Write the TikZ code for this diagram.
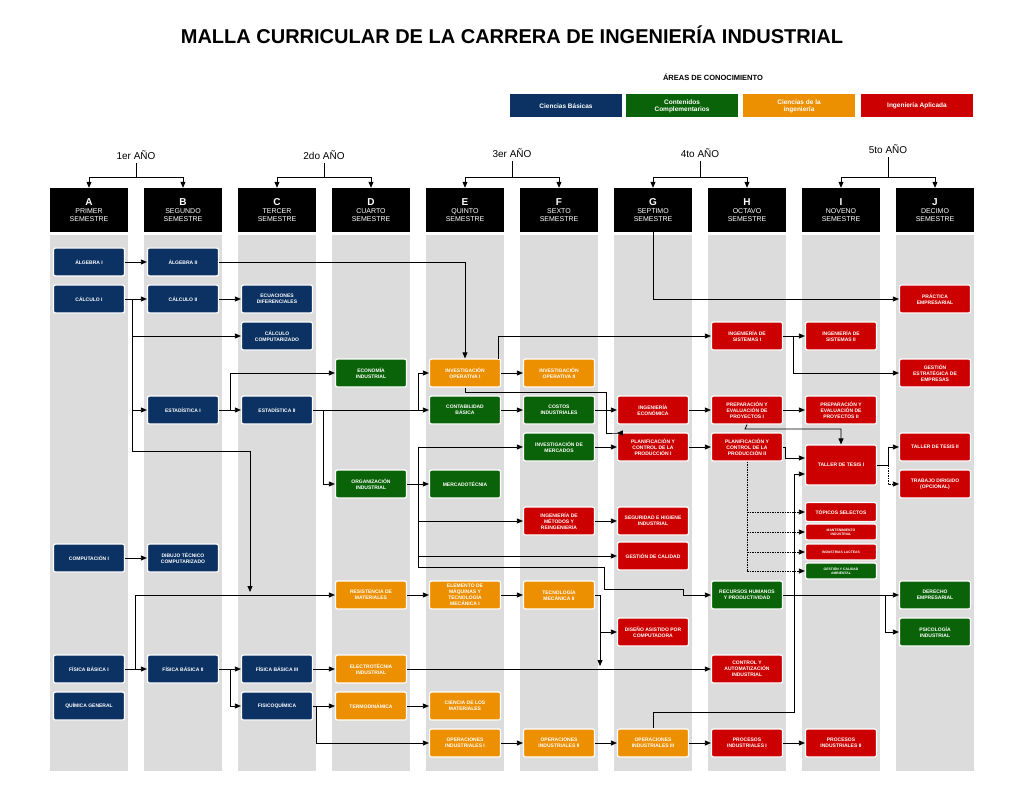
\documentclass[tikz,border=0pt]{standalone}
\usepackage{fontspec}
\setmainfont{Liberation Sans}
\usetikzlibrary{arrows.meta}
\definecolor{cb}{HTML}{0B3263}
\definecolor{cc}{HTML}{0A6308}
\definecolor{ci}{HTML}{EC8F00}
\definecolor{ca}{HTML}{CC0000}
\definecolor{strip}{HTML}{DCDCDC}
\tikzset{
 bx/.style={draw=white,line width=1.2pt,rounded corners=2pt,text=white,align=center,minimum width=71pt,minimum height=28pt,inner sep=1pt,font=\bfseries\fontsize{5}{6}\selectfont},
 B/.style={bx,fill=cb}, G/.style={bx,fill=cc}, O/.style={bx,fill=ci}, R/.style={bx,fill=ca},
 sm/.style={minimum height=16pt,font=\bfseries\fontsize{3.4}{4.2}\selectfont},
 hdr/.style={fill=black,text=white,align=center,minimum width=78pt,minimum height=44pt,inner sep=0pt,font=\fontsize{7}{8}\selectfont},
 ar/.style={line width=0.8pt,-{Triangle[length=6pt,width=5pt]}},
 ln/.style={line width=0.8pt},
 da/.style={ar,dashed,dash pattern=on 1.5pt off 1pt},
 lg/.style={text=white,align=center,minimum width=112pt,minimum height=23pt,inner sep=0pt,font=\bfseries\fontsize{6.5}{7}\selectfont},
 yr/.style={font=\fontsize{10}{12}\selectfont}
}
\begin{document}
\begin{tikzpicture}[x=1pt,y=-1pt]
\useasboundingbox (0,0) rectangle (1024,791);
\fill[white] (0,0) rectangle (1024,791);
\node[font=\bfseries\fontsize{20}{24}\selectfont] (title) at (512,35) {MALLA CURRICULAR DE LA CARRERA DE INGENIERÍA INDUSTRIAL};
\node[font=\bfseries\fontsize{7.5}{9}\selectfont] (areas) at (713,77) {ÁREAS DE CONOCIMIENTO};
\node[lg,fill=cb] (l1) at (566,106) {Ciencias Básicas};
\node[lg,fill=cc] (l2) at (682,106) {Contenidos\\Complementarios};
\node[lg,fill=ci] (l3) at (799,106) {Ciencias de la\\ingeniería};
\node[lg,fill=ca] (l4) at (917,106) {Ingeniería Aplicada};
% stripes and headers
\foreach \x/\L/\S in {89/A/PRIMER,183/B/SEGUNDO,277/C/TERCER,371/D/CUARTO,465/E/QUINTO,559/F/SEXTO,653/G/SEPTIMO,747/H/OCTAVO,841/I/NOVENO,935/J/DECIMO}{
 \fill[strip] (\x-39,235) rectangle (\x+39,771);
 \node[hdr] (h\L) at (\x,210) {{\bfseries\fontsize{10}{11}\selectfont \L}\\\S\\SEMESTRE};
}
\foreach \a/\b/\t/\y in {A/B/1er/155,C/D/2do/155,E/F/3er/153,G/H/4to/153,I/J/5to/149}{
 \path (h\a.north) -- (h\b.north) coordinate[pos=0.5] (m\a);
 \node[yr] (y\a) at (m\a |- 0,\y) {\t{} AÑO};
 \draw[ln] (y\a.south) -- (m\a |- 0,177);
 \draw[ar] (m\a |- 0,177) -| (h\a.north);
 \draw[ar] (m\a |- 0,177) -| (h\b.north);
}
% nodes
\node[B] (alg1) at (89,262) {ÁLGEBRA I};
\node[B] (alg2) at (183,262) {ÁLGEBRA II};
\node[B] (cal1) at (89,299) {CÁLCULO I};
\node[B] (cal2) at (183,299) {CÁLCULO II};
\node[B] (ecd) at (277,299) {ECUACIONES\\DIFERENCIALES};
\node[B] (calc) at (277,336) {CÁLCULO\\COMPUTARIZADO};
\node[G] (eco) at (371,373) {ECONOMÍA\\INDUSTRIAL};
\node[O] (io1) at (465,373) {INVESTIGACIÓN\\OPERATIVA I};
\node[O] (io2) at (559,373) {INVESTIGACIÓN\\OPERATIVA II};
\node[R] (is1) at (747,336) {INGENIERÍA DE\\SISTEMAS I};
\node[R] (is2) at (841,336) {INGENIERÍA DE\\SISTEMAS II};
\node[R] (pra) at (935,299) {PRÁCTICA\\EMPRESARIAL};
\node[R] (ges) at (935,373) {GESTIÓN\\ESTRATÉGICA DE\\EMPRESAS};
\node[B] (es1) at (183,410) {ESTADÍSTICA I};
\node[B] (es2) at (277,410) {ESTADÍSTICA II};
\node[G] (con) at (465,410) {CONTABILIDAD\\BÁSICA};
\node[G] (cos) at (559,410) {COSTOS\\INDUSTRIALES};
\node[R] (iec) at (653,410) {INGENIERÍA\\ECONÓMICA};
\node[R] (pe1) at (747,410) {PREPARACIÓN Y\\EVALUACIÓN DE\\PROYECTOS I};
\node[R] (pe2) at (841,410) {PREPARACIÓN Y\\EVALUACIÓN DE\\PROYECTOS II};
\node[G] (imk) at (559,447) {INVESTIGACIÓN DE\\MERCADOS};
\node[R] (pc1) at (653,447) {PLANIFICACIÓN Y\\CONTROL DE LA\\PRODUCCIÓN I};
\node[R] (pc2) at (747,447) {PLANIFICACIÓN Y\\CONTROL DE LA\\PRODUCCIÓN II};
\node[R,minimum height=40pt] (tt1) at (841,465) {TALLER DE TESIS I};
\node[R] (tt2) at (935,447) {TALLER DE TESIS II};
\node[R] (tdi) at (935,484) {TRABAJO DIRIGIDO\\(OPCIONAL)};
\node[G] (org) at (371,484) {ORGANIZACIÓN\\INDUSTRIAL};
\node[G] (mer) at (465,484) {MERCADOTÉCNIA};
\node[R] (met) at (559,521) {INGENIERÍA DE\\MÉTODOS Y\\REINGENIERÍA};
\node[R] (seg) at (653,521) {SEGURIDAD E HIGIENE\\INDUSTRIAL};
\node[R,minimum height=19pt] (top) at (841,512) {TÓPICOS SELECTOS};
\node[R,sm] (man) at (841,532) {MANTENIMIENTO\\INDUSTRIAL};
\node[R,sm] (lac) at (841,552) {INDUSTRIAS LACTEAS};
\node[G,sm] (gca) at (841,571) {GESTIÓN Y CALIDAD\\AMBIENTAL};
\node[R] (gcal) at (653,556) {GESTIÓN DE CALIDAD};
\node[B] (cmp) at (89,558) {COMPUTACIÓN I};
\node[B] (dib) at (183,558) {DIBUJO TÉCNICO\\COMPUTARIZADO};
\node[O] (res) at (371,595) {RESISTENCIA DE\\MATERIALES};
\node[O] (ele) at (465,595) {ELEMENTO DE\\MÁQUINAS Y\\TECNOLOGÍA\\MECÁNICA I};
\node[O] (tm2) at (559,595) {TECNOLOGÍA\\MECÁNICA II};
\node[G] (rrh) at (747,595) {RECURSOS HUMANOS\\Y PRODUCTIVIDAD};
\node[G] (der) at (935,595) {DERECHO\\EMPRESARIAL};
\node[R] (dac) at (653,632) {DISEÑO ASISTIDO POR\\COMPUTADORA};
\node[G] (psi) at (935,632) {PSICOLOGÍA\\INDUSTRIAL};
\node[B] (fi1) at (89,669) {FÍSICA BÁSICA I};
\node[B] (fi2) at (183,669) {FÍSICA BÁSICA II};
\node[B] (fi3) at (277,669) {FÍSICA BÁSICA III};
\node[O] (elt) at (371,669) {ELECTROTÉCNIA\\INDUSTRIAL};
\node[R] (cai) at (747,669) {CONTROL Y\\AUTOMATIZACIÓN\\INDUSTRIAL};
\node[B] (qui) at (89,706) {QUÍMICA GENERAL};
\node[B] (fqu) at (277,706) {FISICOQUÍMICA};
\node[O] (ter) at (371,706) {TERMODINÁMICA};
\node[O] (cim) at (465,706) {CIENCIA DE LOS\\MATERIALES};
\node[O] (op1) at (465,743) {OPERACIONES\\INDUSTRIALES I};
\node[O] (op2) at (559,743) {OPERACIONES\\INDUSTRIALES II};
\node[O] (op3) at (653,743) {OPERACIONES\\INDUSTRIALES III};
\node[R] (pr1) at (747,743) {PROCESOS\\INDUSTRIALES I};
\node[R] (pr2) at (841,743) {PROCESOS\\INDUSTRIALES II};
% connectors
\draw[ar] (alg1) -- (alg2);
\draw[ar] (alg2.east) -| (io1.north);
\draw[ar] (cal1) -- (cal2);
\draw[ar] (cal2) -- (ecd);
\draw[ar] (cal1.east) -| (132,336) -- (calc.west);
\draw[ar] (132,299) |- (es1.west);
\draw[ln] (132,410) |- (250,451);
\draw[ar] (250,451) -- (250,592);
\draw[ar] (es1) -- (es2);
\draw[ar] (230,410) |- (eco.west);
\draw[ln] (es2.east) -- (418,410);
\draw[ar] (418,410) |- (io1.west);
\draw[ar] (418,410) -- (con.west);
\draw[ar] (323,410) |- (org.west);
\draw[ar] (org) -- (mer);
\draw[ar] (418,484) |- (imk.west);
\draw[ar] (418,484) |- (met.west);
\draw[ar] (418,484) |- (gcal.west);
\draw[ln] (418,484) -- (418,567) -- (604,567) -- (604,589) -- (683,589) -- (683,595);
\draw[ar] (683,595) -- (rrh.west);
\draw[ar] (io1) -- (io2);
\draw[ar] (498,359) |- (is1.west);
\draw[ar] (io1.south) -- (465,392) -- (606,392) |- (617,433) -- (pc1.west |- 0,433);
\draw[ar] (con) -- (cos);
\draw[ar] (cos) -- (iec);
\draw[ar] (iec) -- (pe1);
\draw[ar] (pe1) -- (pe2);
\draw[ar] (pe1.south) -- (745,429) -| (tt1.north);
\draw[ar] (imk) -- (pc1);
\draw[ar] (pc1) -- (pc2);
\draw[ar] (pc2.east) -| (785,458) -- (tt1.west |- 0,458);
\draw[ar] (is1) -- (is2);
\draw[ar] (793,336) |- (ges.west);
\draw[ar] (hG.south) |- (pra.west);
\draw[ln] (tt1.east) -- (888,465);
\draw[ar] (888,465) |- (tt2.west);
\draw[da] (888,465) |- (tdi.west);
\draw[dashed,dash pattern=on 1.5pt off 1pt,line width=0.8pt] (pc2.south) -- (747,571);
\draw[da] (747,512) -- (top.west);
\draw[da] (747,532) -- (man.west);
\draw[da] (747,552) -- (lac.west);
\draw[da] (747,571) -- (gca.west);
\draw[ar] (op3.north) -- (653,712) -- (794,712) -- (794,474) -- (tt1.west |- 0,474);
\draw[ar] (met) -- (seg);
\draw[ar] (cmp) -- (dib);
\draw[ar] (fi1) -- (fi2);
\draw[ar] (135,669) |- (res.west);
\draw[ar] (res) -- (ele);
\draw[ar] (ele) -- (tm2);
\draw[ln] (tm2.east) -- (600,595);
\draw[ar] (600,595) |- (dac.west);
\draw[ar] (600,595) -- (600,666);
\draw[ar] (fi2) -- (fi3);
\draw[ar] (230,669) |- (fqu.west);
\draw[ar] (fi3) -- (elt);
\draw[ar] (elt) -- (cai);
\draw[ar] (fqu) -- (ter);
\draw[ar] (ter) -- (cim);
\draw[ar] (316,706) |- (op1.west);
\draw[ar] (op1) -- (op2);
\draw[ar] (op2) -- (op3);
\draw[ar] (op3) -- (pr1);
\draw[ar] (pr1) -- (pr2);
\draw[ln] (rrh.east) -- (885,595);
\draw[ar] (885,595) -- (der.west);
\draw[ar] (885,595) |- (psi.west);
\end{tikzpicture}
\end{document}
